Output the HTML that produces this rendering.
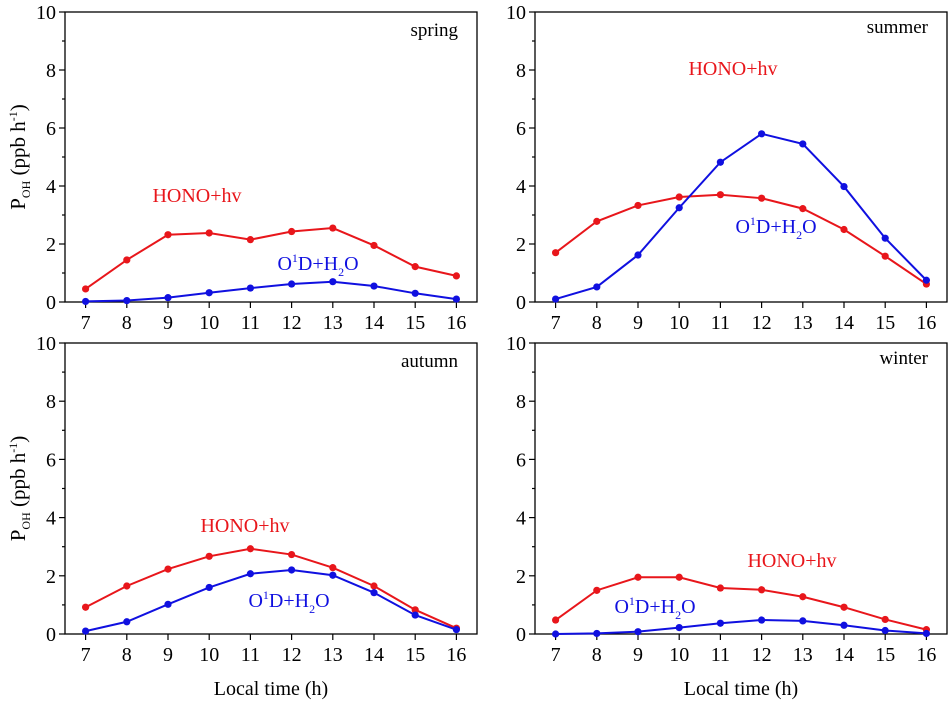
<!DOCTYPE html>
<html><head><meta charset="utf-8"><style>
body{margin:0;background:#fff;}
svg{display:block;font-family:"Liberation Serif",serif;}
</style></head><body>
<svg id="chart" width="950" height="702"></svg>
<script>
const hours=[7,8,9,10,11,12,13,14,15,16];
const yTicks=[0,2,4,6,8,10];
const seasons=["spring","summer","autumn","winter"];
const honoSpring=[0.45,1.45,2.32,2.38,2.15,2.43,2.55,1.95,1.22,0.9];
const o1dSpring=[0.02,0.05,0.15,0.32,0.48,0.62,0.7,0.55,0.3,0.1];
const honoSummer=[1.7,2.78,3.33,3.62,3.7,3.58,3.22,2.5,1.58,0.62];
const o1dSummer=[0.1,0.52,1.62,3.25,4.82,5.8,5.45,3.98,2.2,0.75];
const honoAutumn=[0.92,1.65,2.23,2.67,2.93,2.73,2.28,1.65,0.83,0.2];
const o1dAutumn=[0.1,0.42,1.02,1.6,2.07,2.2,2.02,1.42,0.65,0.15];
const honoWinter=[0.48,1.5,1.95,1.95,1.58,1.52,1.28,0.92,0.5,0.15];
const o1dWinter=[0,0.02,0.08,0.22,0.37,0.48,0.45,0.3,0.12,0.02];
const honoSeries=[honoSpring,honoSummer,honoAutumn,honoWinter];
const o1dSeries=[o1dSpring,o1dSummer,o1dAutumn,o1dWinter];

const panels=[
 {x0:65,x1:477,y0:12,y1:302,ylab:true,xlab:false,sx:458,sy:36,hx:197,hy:202,ox:318,oy:270},
 {x0:535,x1:947,y0:12,y1:302,ylab:false,xlab:false,sx:928,sy:33,hx:733,hy:75,ox:776,oy:233},
 {x0:65,x1:477,y0:343,y1:634,ylab:true,xlab:true,sx:458,sy:367,hx:245,hy:532,ox:289,oy:607},
 {x0:535,x1:947,y0:343,y1:634,ylab:false,xlab:true,sx:928,sy:364,hx:792,hy:567,ox:655,oy:613}
];
const NS="http://www.w3.org/2000/svg";
const svg=document.getElementById('chart');
function mk(tag,attrs,parent,text){const e=document.createElementNS(NS,tag);for(const k in attrs)e.setAttribute(k,attrs[k]);if(text!==undefined)e.textContent=text;(parent||svg).appendChild(e);return e;}

panels.forEach((p,i)=>{
 const g=mk('g',{});
 
 
 const X=v=>p.x0+(v-6.5)/10*(p.x1-p.x0);
 const Y=v=>p.y1-v/10*(p.y1-p.y0);
 const fr=mk('rect',{x:p.x0,y:p.y0,width:p.x1-p.x0,height:p.y1-p.y0,fill:'none',stroke:'#000','stroke-width':1.3},g);
 
 
 for(let v=0;v<=10;v++){
  mk('line',{x1:p.x0,x2:p.x0-(v%2?3:6),y1:Y(v),y2:Y(v),stroke:'#000','stroke-width':1.2},g);
 }
 yTicks.forEach(v=>{
  const t=mk('text',{x:p.x0-9,y:Y(v)+7,'text-anchor':'end','font-size':20},g,v);
  
  
 });
 hours.forEach(h=>{
  mk('line',{x1:X(h),x2:X(h),y1:p.y1,y2:p.y1+6,stroke:'#000','stroke-width':1.2},g);
  const t=mk('text',{x:X(h),y:p.y1+27,'text-anchor':'middle','font-size':20},g,h);
  
  
 });
 [[honoSeries[i],'#e8161b','hono-hv-series'],[o1dSeries[i],'#1010e0','o1d-h2o-series']].forEach(([d,c,n])=>{
  const sg=mk('g',{},g);
  
  
  mk('polyline',{points:d.map((v,k)=>X(hours[k])+','+Y(v)).join(' '),fill:'none',stroke:c,'stroke-width':2},sg);
  d.forEach((v,k)=>{
   const pt=mk('circle',{cx:X(hours[k]),cy:Y(v),r:3.6,fill:c},sg);
   
   
  });
 });
 const st=mk('text',{x:p.sx,y:p.sy,'text-anchor':'end','font-size':19},g,seasons[i]);
 
 
 const hl=mk('text',{x:p.hx,y:p.hy,'text-anchor':'middle','font-size':20,fill:'#e8161b'},g,'HONO+hv');
 
 
 const ol=mk('text',{x:p.ox,y:p.oy,'text-anchor':'middle','font-size':20,fill:'#1010e0'},g);
 
 
 ol.innerHTML='O<tspan font-size="12" dy="-8">1</tspan><tspan dy="8">D+H</tspan><tspan font-size="12" dy="6">2</tspan><tspan dy="-6">O</tspan>';
 if(p.ylab){
  const cy=(p.y0+p.y1)/2;
  const yl=mk('text',{transform:`translate(25,${cy}) rotate(-90)`,'text-anchor':'middle','font-size':21},g);
  
  
  yl.innerHTML='P<tspan font-size="12" dy="5">OH</tspan><tspan dy="-5">  (ppb h</tspan><tspan font-size="12" dy="-8">-1</tspan><tspan dy="8">)</tspan>';
 }
 if(p.xlab){
  const xl=mk('text',{x:(p.x0+p.x1)/2,y:695,'text-anchor':'middle','font-size':20},g,'Local time (h)');
  
  
 }
});
</script>
</body></html>
